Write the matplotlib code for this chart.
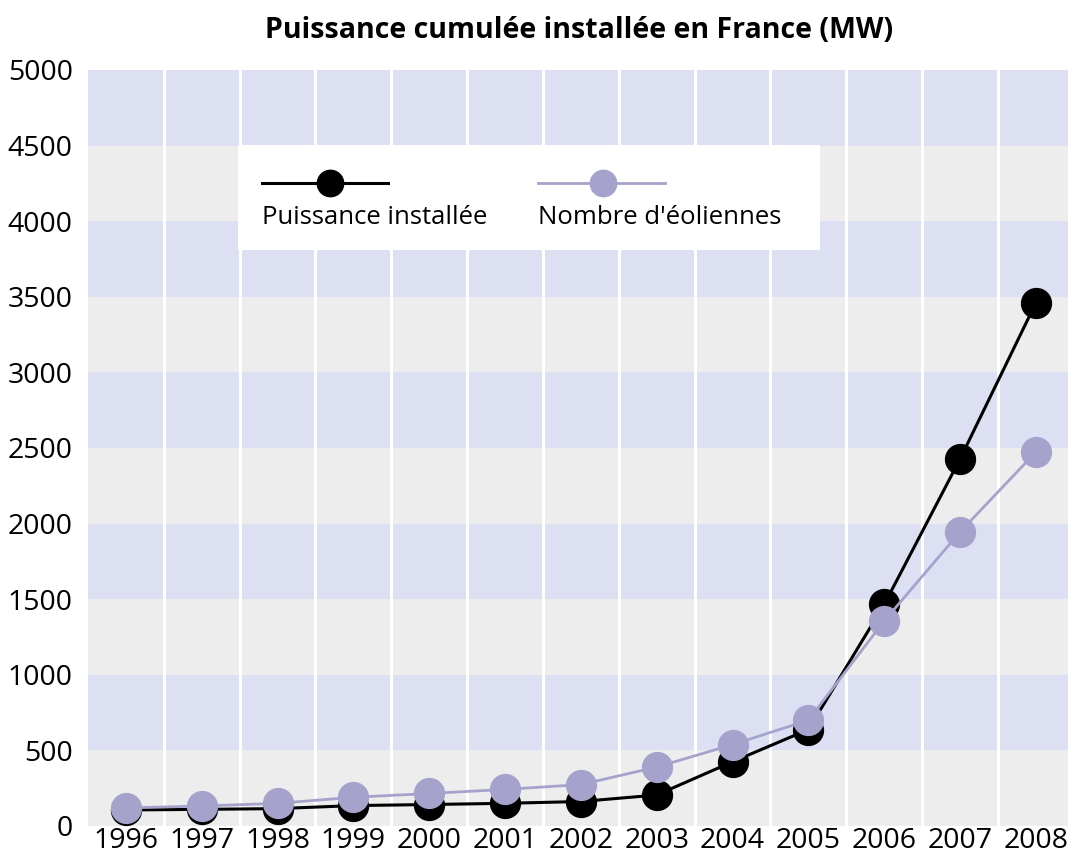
import matplotlib
matplotlib.use("Agg")
import matplotlib.pyplot as plt
from matplotlib import font_manager
from matplotlib.lines import Line2D
from matplotlib.patches import Rectangle

years = ["1996", "1997", "1998", "1999", "2000", "2001", "2002",
         "2003", "2004", "2005", "2006", "2007", "2008"]
puissance = [106, 110, 115, 135, 142, 150, 162, 205, 425, 638, 1465, 2427, 3460]
eoliennes = [120, 132, 150, 190, 215, 242, 274, 390, 538, 700, 1356, 1945, 2473]
yticks = [0, 500, 1000, 1500, 2000, 2500, 3000, 3500, 4000, 4500, 5000]
legend_labels = ["Puissance installée", "Nombre d'éoliennes"]

names = {f.name for f in font_manager.fontManager.ttflist}
fam = [f for f in ["Liberation Sans Narrow", "Open Sans", "DejaVu Sans"] if f in names]
plt.rcParams['font.family'] = fam

BLACK = "#000000"
PURPLE = "#a5a3cc"
LAV = "#dce0f2"
GREY = "#ededed"

W, H = 1068, 858
fig = plt.figure(figsize=(W/100, H/100), dpi=100)
ax = fig.add_axes([88/W, 32/H, 980/W, 756/H])

def fx(px):
    return px / W

def fy(py):
    return 1 - py / H

x = list(range(len(years)))
ax.set_xlim(-0.5, -0.5 + 980/75.83)
ax.set_ylim(0, 5000)

for i, lo in enumerate(yticks[:-1]):
    ax.axhspan(lo, lo + 500, color=GREY if i % 2 == 0 else LAV, lw=0, zorder=0)
for i in range(len(years)):
    ax.axvline(i + 0.5, color="white", lw=2.2, zorder=1)

ax.plot(x, puissance, color=BLACK, lw=2.2, marker="o", ms=21.5, zorder=3)
ax.plot(x, eoliennes, color=PURPLE, lw=2.0, marker="o", ms=21.5, zorder=4)

for s in ax.spines.values():
    s.set_visible(False)
ax.set_xticks(x)
ax.set_xticklabels(years)
ax.set_yticks(yticks)
ax.set_yticklabels([str(v) for v in yticks])
ax.tick_params(axis="both", length=0, labelsize=20.5, colors="black")
ax.tick_params(axis="x", pad=1)
ax.tick_params(axis="y", pad=11)

fig.text(fx(579), fy(31), "Puissance cumulée installée en France (MW)",
         ha="center", va="center", fontsize=20.5, fontweight="bold")

# manual legend
fig.add_artist(Rectangle((fx(238), fy(250)), fx(820) - fx(238), fy(145) - fy(250),
                         transform=fig.transFigure, facecolor="white",
                         edgecolor="none", zorder=5))
for (x0, x1, xm), col, lw, lab in [((262, 388, 330), BLACK, 2.2, legend_labels[0]),
                                   ((538, 665, 603), PURPLE, 2.0, legend_labels[1])]:
    fig.add_artist(Line2D([fx(x0), fx(x1)], [fy(183), fy(183)], color=col, lw=lw,
                          transform=fig.transFigure, zorder=6))
    fig.add_artist(Line2D([fx(xm)], [fy(183)], color=col, marker="o", ms=19,
                          lw=0, transform=fig.transFigure, zorder=7))
    fig.text(fx(x0), fy(218), lab, ha="left", va="center", fontsize=18.5, zorder=7)

fig.savefig("out.png", dpi=100, facecolor="white")
